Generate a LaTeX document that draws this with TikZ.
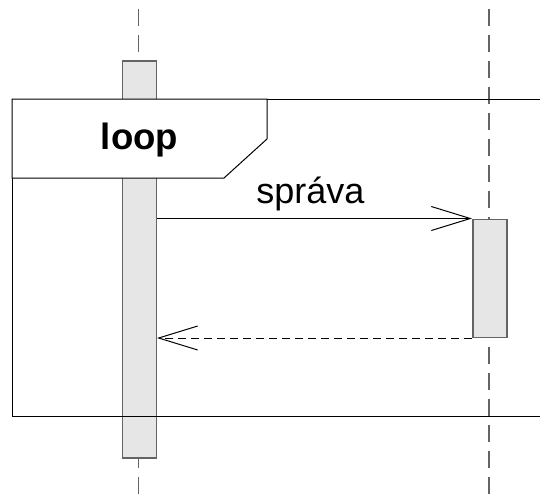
\documentclass[tikz,border=0pt]{standalone}
\usepackage{fontspec}
\setmainfont{Liberation Sans}
\usepackage{tikz}
\usetikzlibrary{arrows.meta, positioning, calc}
\usepackage{xcolor}
\definecolor{lifegray}{RGB}{100,100,100}
\definecolor{actfill}{RGB}{230,230,230}
\tikzset{
  lifeline/.style={draw=lifegray, line width=0.75pt, dash pattern=on 8.5pt off 4.5pt},
  actbox/.style={rectangle, draw=lifegray, fill=actfill, line width=0.75pt, anchor=north west,
    minimum width=17pt, inner sep=0pt},
  framepath/.style={draw=black, line width=0.5pt},
  msgarrow/.style={-{Straight Barb[length=19.5pt, width=12pt, line width=0.5pt]}, line width=0.5pt},
  replyarrow/.style={msgarrow, dash pattern=on 4pt off 2.5pt},
  msgtext/.style={font=\fontsize{18}{20}\selectfont}
}
\begin{document}
\begin{tikzpicture}[x=0.5pt, y=-0.5pt]
  \useasboundingbox (0,0) rectangle (540,499);

  % lifelines
  \coordinate (lifeAtop) at (138.5,9);
  \coordinate (lifeAbot) at (138.5,499);
  \coordinate (lifeBtop) at (489,9);
  \coordinate (lifeBbot) at (489,499);
  \draw[lifeline] (lifeAtop) -- (lifeAbot);
  \draw[lifeline] (lifeBtop) -- (lifeBbot);

  % activations
  \node[actbox, minimum height=198.5pt] (actA) at (121.5,60) {};
  \node[actbox, minimum height=59pt] (actB) at (472,218.5) {};

  % loop fragment
  \coordinate (frameNW) at (12,99);
  \coordinate (frameNE) at (540,99);
  \coordinate (frameSW) at (12,416);
  \coordinate (frameSE) at (540,416);
  \draw[framepath] (frameNE) -- (frameNW) -- (frameSW) -- (frameSE);
  \draw[framepath, fill=white] (frameNW) -- (267,99) -- (267,139) -- (224,178) -- (12,178) -- cycle;
  \node[msgtext, font=\fontsize{18.3}{20}\selectfont\bfseries, anchor=base] (looplabel) at (139.5,149) {loop};

  % messages
  \draw[msgarrow] (actA.east |- actB.north west) --
        node[msgtext, above, xshift=-2pt] (msglabel) {správa} (actB.north west);
  \draw[replyarrow] (actB.south west) -- (actA.east |- actB.south west);
\end{tikzpicture}
\end{document}
